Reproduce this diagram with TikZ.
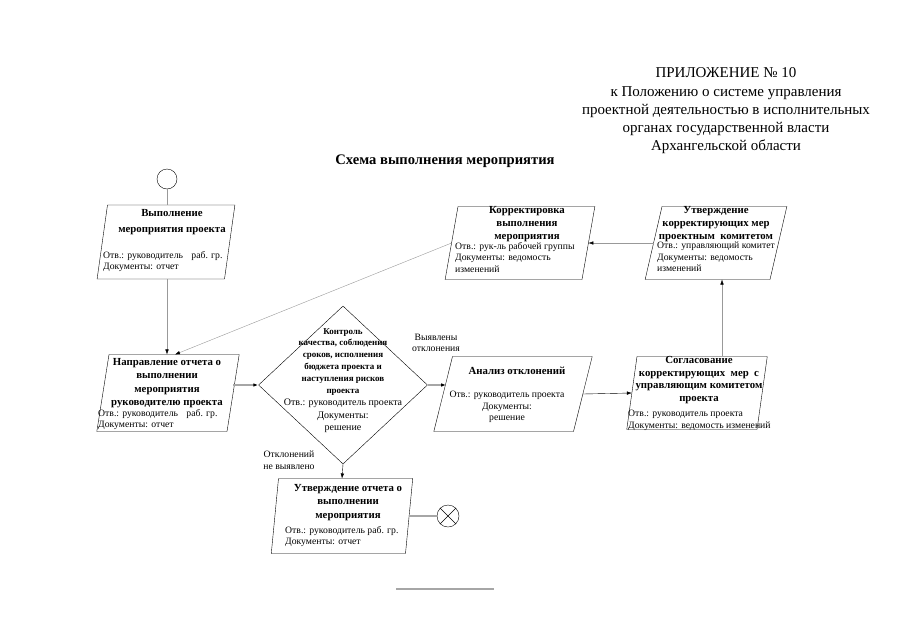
\documentclass[tikz,border=0pt]{standalone}
\usepackage{fontspec}
\setmainfont{Liberation Serif}
\usetikzlibrary{shapes.geometric,arrows.meta}

\newcommand\zagfont{\fontsize{10.8}{13.5}\selectfont\bfseries}
\newcommand\tekstfont{\fontsize{9.7}{11.5}\selectfont}

\tikzset{
	blok/.style={draw, thin, trapezium, outer sep=0pt},
	zag/.style={font=\zagfont, align=center, inner sep=0pt, anchor=north},
	tekst/.style={font=\tekstfont, align=left, inner sep=0pt, anchor=north west},
	svyaz/.style={draw=gray!80, -{Latex[length=5pt,width=3.5pt,color=black]}},
	tolst/.style={draw=gray!70, line width=1.4pt, -{Latex[length=5pt,width=3.5pt,color=black]}}
}

\begin{document}
\begin{tikzpicture}[x=1pt,y=-1pt]
	\useasboundingbox (0,0) rectangle (905,640);
	% shapka
	\node[font=\fontsize{15}{18.3}\selectfont, align=center] (pril) at (726,111) {ПРИЛОЖЕНИЕ № 10\\к Положению о системе управления\\проектной деятельностью в исполнительных\\органах государственной власти\\Архангельской области};
	\node[font=\fontsize{14.6}{16}\selectfont\bfseries] (nazv) at (445,161) {Схема выполнения мероприятия};
	
	% bloki
	\node[draw, circle, minimum size=20pt, inner sep=0pt] (nachalo) at (167,179) {};
	\node[blok, inner xsep=58.5pt, inner ysep=37pt, trapezium left angle=82, trapezium right angle=98] (vyp) at (166,242) {};
	\node[blok, inner xsep=59pt, inner ysep=38.5pt, trapezium left angle=81, trapezium right angle=99] (napr) at (168,393) {};
	\node[draw, diamond, minimum width=169pt, minimum height=158pt, aspect=1.07, inner sep=0pt] (kontr) at (343,385) {};
	\node[blok, inner xsep=60.5pt, inner ysep=37.5pt, trapezium left angle=76, trapezium right angle=104] (analiz) at (513,394) {};
	\node[blok, inner xsep=60pt, inner ysep=36.5pt, trapezium left angle=82, trapezium right angle=98] (sogl) at (697,393) {};
	\node[blok, inner xsep=54pt, inner ysep=36.5pt, trapezium left angle=77, trapezium right angle=103] (utv) at (716,243) {};
	\node[blok, inner xsep=62pt, inner ysep=36.5pt, trapezium left angle=80, trapezium right angle=100] (korr) at (520,243) {};
	\node[blok, inner xsep=63.5pt, inner ysep=37.5pt, trapezium left angle=84.5, trapezium right angle=95.5] (utvo) at (342,516) {};
	\node[draw, circle, minimum size=22pt, inner sep=0pt] (konec) at (448,516) {};
	\draw (konec.north west) -- (konec.south east) (konec.north east) -- (konec.south west);
	
	% teksty
	\node[zag, font=\fontsize{10.8}{16}\selectfont\bfseries] (vyp-z) at (172,209) {Выполнение\\мероприятия проекта};
	\node[tekst] (vyp-t) at (103,251) {Отв.: руководитель\hspace{6pt} раб. гр.\\Документы: отчет};
	\node[zag] (napr-z) at (167,358) {Направление отчета о\\выполнении\\мероприятия\\руководителю проекта};
	\node[tekst] (napr-t) at (98,409) {Отв.: руководитель\hspace{6pt} раб. гр.\\Документы: отчет};
	\node[zag, font=\fontsize{9}{11.8}\selectfont\bfseries] (kontr-z) at (343,328) {Контроль\\качества, соблюдения\\сроков, исполнения\\бюджета проекта и\\наступления рисков\\проекта};
	\node[tekst, anchor=north, align=center, font=\fontsize{10}{12.5}\selectfont] (kontr-t) at (343,399) {Отв.: руководитель проекта\\Документы:\\решение};
	\node[zag] (analiz-z) at (517,367) {Анализ отклонений};
	\node[tekst, anchor=north, align=center] (analiz-t) at (507,391) {Отв.: руководитель проекта\\Документы:\\решение};
	\node[zag, font=\fontsize{10.8}{12.7}\selectfont\bfseries] (sogl-z) at (699,356) {Согласование\\корректирующих\ \ мер\ \ с\\управляющим комитетом\\проекта};
	\node[tekst] (sogl-t) at (628,410) {Отв.: руководитель проекта\\Документы: ведомость изменений};
	\node[zag, font=\fontsize{10.8}{13}\selectfont\bfseries] (utv-z) at (716,206) {Утверждение\\корректирующих мер\\проектным\ \ комитетом};
	\node[tekst] (utv-t) at (657,242) {Отв.: управляющий комитет\\Документы: ведомость\\изменений};
	\node[zag, font=\fontsize{10.8}{13}\selectfont\bfseries] (korr-z) at (527,206) {Корректировка\\выполнения\\мероприятия};
	\node[tekst] (korr-t) at (455,242) {Отв.: рук-ль рабочей группы\\Документы: ведомость\\изменений};
	\node[zag] (utvo-z) at (348,484) {Утверждение отчета о\\выполнении\\мероприятия};
	\node[tekst] (utvo-t) at (285,526) {Отв.: руководитель раб. гр.\\Документы: отчет};
	
	% metki
	\node[font=\tekstfont, align=center] (vyyav) at (436,343) {Выявлены\\отклонения};
	\node[font=\tekstfont, align=center] (nevyyav) at (289,460) {Отклонений\\не выявлено};
	
	% svyazi
	\draw[draw=gray!80] (nachalo) -- (nachalo |- vyp.north);
	\draw[svyaz] (nachalo |- vyp.south) -- (nachalo |- napr.north);
	\draw[tolst] (kontr.west -| napr.east) -- (kontr.west);
	\draw[tolst] (kontr.east) -- ([xshift=3pt]kontr.east -| analiz.west);
	\draw[svyaz, draw=black] (analiz.east) -- (sogl.west);
	\draw[svyaz] ([xshift=25pt]sogl.north) -- ([xshift=25pt]sogl.north |- utv.south);
	\draw[svyaz] (utv.west) -- (korr.east);
	\draw[svyaz] (korr.west) -- ([xshift=7pt]napr.north);
	\draw[svyaz, draw=black] (kontr.south) -- (utvo.north);
	\draw[draw=gray!70, line width=1.4pt] (utvo.east) -- (konec);
	
	\draw[gray!70, line width=1.5pt] (396,589) -- (494,589);
\end{tikzpicture}
\end{document}
